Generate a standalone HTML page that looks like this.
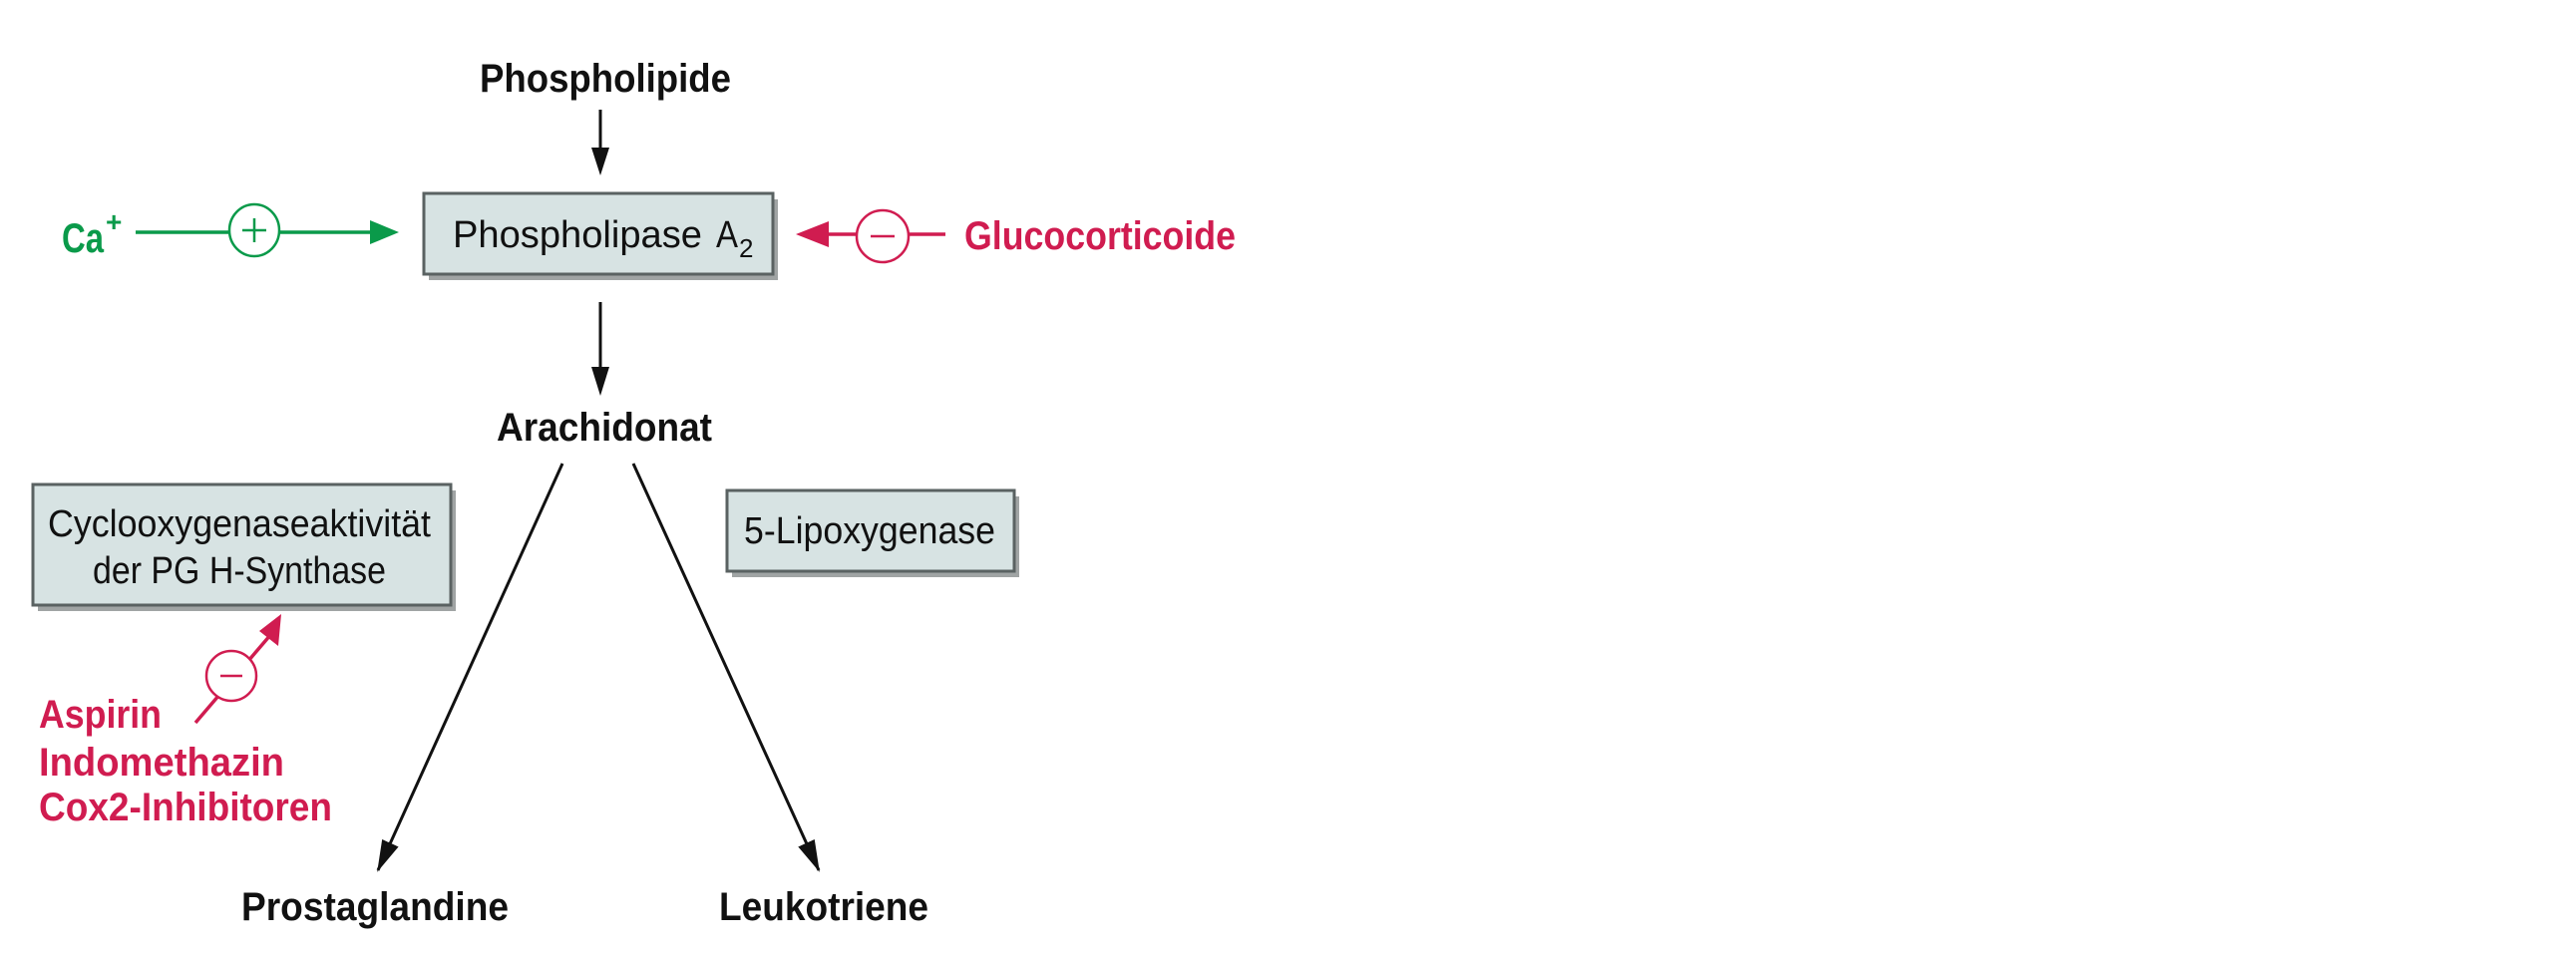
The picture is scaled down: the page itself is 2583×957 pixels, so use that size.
<!DOCTYPE html>
<html><head><meta charset="utf-8"><style>
html,body{margin:0;padding:0;background:#fff;width:2583px;height:957px;overflow:hidden}
svg{display:block}
text{font-family:"Liberation Sans Narrow","Liberation Sans",sans-serif}
.b{font-weight:bold;fill:#111}
.n{fill:#111}
</style></head><body>
<svg width="2583" height="957" viewBox="0 0 2583 957">
<defs>
<marker id="ak" markerWidth="32" markerHeight="18" refX="30" refY="9" orient="auto" markerUnits="userSpaceOnUse" viewBox="0 0 32 18"><path d="M0,0 L32,9 L0,18 z" fill="#111"/></marker>
</defs>
<text class="b" x="481" y="92" font-size="40" textLength="252" lengthAdjust="spacingAndGlyphs">Phospholipide</text>
<g>
<line x1="602" y1="110" x2="602" y2="150" stroke="#111" stroke-width="3"/>
<path d="M593,148 L611,148 L602,176 z" fill="#111"/>
</g>
<g>
<rect x="430" y="200" width="350" height="81" fill="#a0a4a4"/>
<rect x="425" y="194" width="350" height="81" fill="#d7e3e3" stroke="#5a6262" stroke-width="3"/>
<text class="n" x="454" y="248" font-size="38" textLength="250" lengthAdjust="spacingAndGlyphs">Phospholipase</text>
<text class="n" x="718" y="248" font-size="38" textLength="22" lengthAdjust="spacingAndGlyphs">A</text>
<text class="n" x="741" y="258" font-size="26">2</text>
</g>
<g>
<text x="62" y="253" font-size="42" font-weight="bold" fill="#0a9a4a" textLength="42" lengthAdjust="spacingAndGlyphs">Ca</text>
<text x="106" y="232" font-size="28" font-weight="bold" fill="#0a9a4a">+</text>
<line x1="136" y1="233" x2="375" y2="233" stroke="#0a9a4a" stroke-width="3.5"/>
<path d="M371,221 L400,233 L371,245 z" fill="#0a9a4a"/>
<ellipse cx="255" cy="231" rx="25" ry="26" fill="#fff" stroke="#0a9a4a" stroke-width="2.5"/>
<line x1="243" y1="231" x2="267" y2="231" stroke="#0a9a4a" stroke-width="2.5"/>
<line x1="255" y1="219" x2="255" y2="243" stroke="#0a9a4a" stroke-width="2.5"/>
</g>
<g>
<line x1="825" y1="235" x2="948" y2="235" stroke="#d01c50" stroke-width="3.5"/>
<path d="M798,235 L831,222 L831,248 z" fill="#d01c50"/>
<ellipse cx="885" cy="237" rx="26" ry="26" fill="#fff" stroke="#d01c50" stroke-width="2.5"/>
<line x1="873" y1="237" x2="897" y2="237" stroke="#d01c50" stroke-width="2.5"/>
<text x="967" y="250" font-size="40" font-weight="bold" fill="#d01c50" textLength="272" lengthAdjust="spacingAndGlyphs">Glucocorticoide</text>
</g>
<g>
<line x1="602" y1="303" x2="602" y2="370" stroke="#111" stroke-width="3"/>
<path d="M593,368 L611,368 L602,397 z" fill="#111"/>
</g>
<text class="b" x="498" y="442" font-size="40" textLength="216" lengthAdjust="spacingAndGlyphs">Arachidonat</text>
<line x1="564" y1="465" x2="379" y2="873" stroke="#111" stroke-width="3" marker-end="url(#ak)"/>
<line x1="635" y1="465" x2="821" y2="873" stroke="#111" stroke-width="3" marker-end="url(#ak)"/>
<g>
<rect x="38" y="492" width="419" height="121" fill="#a0a4a4"/>
<rect x="33" y="486" width="419" height="121" fill="#d7e3e3" stroke="#5a6262" stroke-width="3"/>
<text class="n" x="48" y="538" font-size="38" textLength="384" lengthAdjust="spacingAndGlyphs">Cyclooxygenaseaktivität</text>
<text class="n" x="93" y="585" font-size="38" textLength="294" lengthAdjust="spacingAndGlyphs">der PG H-Synthase</text>
</g>
<g>
<rect x="734" y="498" width="288" height="81" fill="#a0a4a4"/>
<rect x="729" y="492" width="288" height="81" fill="#d7e3e3" stroke="#5a6262" stroke-width="3"/>
<text class="n" x="746" y="545" font-size="38" textLength="252" lengthAdjust="spacingAndGlyphs">5-Lipoxygenase</text>
</g>
<g>
<line x1="196" y1="725" x2="272" y2="636" stroke="#d01c50" stroke-width="3.5"/>
<path d="M282,616 L279,648 L260,633 z" fill="#d01c50"/>
<ellipse cx="232" cy="678" rx="25" ry="25" fill="#fff" stroke="#d01c50" stroke-width="2.5"/>
<line x1="221" y1="678" x2="243" y2="678" stroke="#d01c50" stroke-width="2.5"/>
<text x="39" y="730" font-size="40" font-weight="bold" fill="#d01c50" textLength="123" lengthAdjust="spacingAndGlyphs">Aspirin</text>
<text x="39" y="778" font-size="40" font-weight="bold" fill="#d01c50" textLength="246" lengthAdjust="spacingAndGlyphs">Indomethazin</text>
<text x="39" y="823" font-size="40" font-weight="bold" fill="#d01c50" textLength="294" lengthAdjust="spacingAndGlyphs">Cox2-Inhibitoren</text>
</g>
<text class="b" x="242" y="923" font-size="40" textLength="268" lengthAdjust="spacingAndGlyphs">Prostaglandine</text>
<text class="b" x="721" y="923" font-size="40" textLength="210" lengthAdjust="spacingAndGlyphs">Leukotriene</text>
</svg>
</body></html>
